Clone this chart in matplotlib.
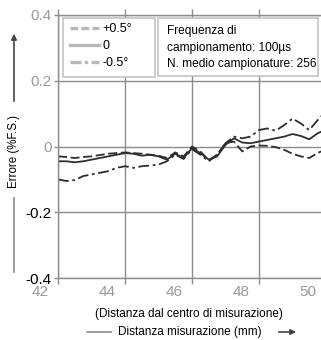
import matplotlib
matplotlib.use("Agg")
import matplotlib.pyplot as plt
from matplotlib.lines import Line2D
from matplotlib.patches import Rectangle, FancyArrowPatch
from matplotlib.transforms import ScaledTranslation, blended_transform_factory

plt.rcParams["font.family"] = ["Liberation Sans", "DejaVu Sans"]

# Distanza di misurazione (mm) e errore (%F.S.) per i tre angoli
distanza = [42.00, 42.25, 42.50, 42.75, 43.00, 43.25, 43.50, 43.75,
            44.00, 44.25, 44.50, 44.75, 45.00, 45.25, 45.50, 45.75,
            46.00, 46.25, 46.50, 46.75, 47.00, 47.25, 47.50, 47.75,
            48.00, 48.25, 48.50, 48.75, 49.00, 49.25, 49.50, 49.75, 50.00]
errore_piu = [-0.030, -0.032, -0.035, -0.032, -0.030, -0.026, -0.022, -0.020,
              -0.018, -0.020, -0.022, -0.025, -0.028, -0.035, -0.018, -0.030,
              0.000, -0.015, -0.042, -0.025, 0.010, 0.015, -0.015, 0.000,
              0.003, 0.002, -0.002, -0.010, -0.022, -0.030, -0.035, -0.020, -0.008]
errore_zero = [-0.045, -0.045, -0.048, -0.045, -0.040, -0.035, -0.030, -0.025,
               -0.020, -0.022, -0.028, -0.025, -0.030, -0.040, -0.022, -0.035,
               -0.005, -0.020, -0.040, -0.030, 0.005, 0.025, 0.012, 0.010,
               0.015, 0.020, 0.025, 0.030, 0.038, 0.032, 0.022, 0.040, 0.052]
errore_meno = [-0.100, -0.105, -0.102, -0.090, -0.085, -0.080, -0.075, -0.065,
               -0.060, -0.065, -0.060, -0.058, -0.055, -0.045, -0.025, -0.038,
               -0.008, -0.025, -0.045, -0.025, 0.010, 0.030, 0.025, 0.030,
               0.050, 0.055, 0.048, 0.065, 0.085, 0.070, 0.050, 0.080, 0.108]

x_ticks = [42, 44, 46, 48, 50]
y_ticks = [-0.4, -0.2, 0, 0.2, 0.4]
y_tick_labels = ["-0.4", "-0.2", "0", "0.2", "0.4"]
y_tick_colors = ["black", "black", "#9a9a9a", "#9a9a9a", "#9a9a9a"]
legend_labels = ["+0.5°", "0", "-0.5°"]
info_lines = ["Frequenza di", "campionamento: 100µs", "N. medio campionature: 256"]

W, H = 321, 340
GRID = "#8c8c8c"
LINE = "#2e2e2e"
HANDLE = "#b8b8b8"

fig = plt.figure(figsize=(W / 100, H / 100), dpi=100)


def px(x, y):
    # pixel dall'angolo in alto a sinistra -> frazione della figura
    return (x / W, 1 - y / H)


ax = fig.add_axes([58 / W, 1 - 278 / H, 268 / W, 263 / H])

ax.plot(distanza, errore_piu, color=LINE, lw=1.3, dashes=(5, 2))
ax.plot(distanza, errore_zero, color=LINE, lw=1.3)
ax.plot(distanza, errore_meno, color=LINE, lw=1.3, dashes=(6, 2, 1.5, 2))

ax.set_xlim(42, 50)
ax.set_ylim(-0.4, 0.4)
ax.set_xticks(x_ticks)
ax.set_yticks(y_ticks)
ax.set_yticklabels(y_tick_labels, fontsize=11)
for lbl, c in zip(ax.get_yticklabels(), y_tick_colors):
    lbl.set_color(c)
ax.tick_params(axis="x", labelbottom=False, direction="out", length=4,
               color=GRID, width=1.0, top=True)
ax.tick_params(axis="y", direction="out", length=3, color=GRID, width=1.0, pad=1.5)
ax.grid(True, color=GRID, lw=1.0)
for side in ["left", "top", "bottom"]:
    ax.spines[side].set_color(GRID)
    ax.spines[side].set_linewidth(1.0)
ax.spines["right"].set_visible(False)

# etichette asse x spostate a sinistra rispetto alla griglia
trans = blended_transform_factory(ax.transData, ax.transAxes) + \
    ScaledTranslation(-0.18, -0.14, fig.dpi_scale_trans)
for t in x_ticks:
    ax.text(t, 0, str(t), transform=trans, ha="center", va="center",
            fontsize=11, color="#9a9a9a")

# riquadro legenda
fig.add_artist(Rectangle(px(63, 77), 92 / W, 59 / H, transform=fig.transFigure,
                         facecolor="white", edgecolor="#c4c4c4", lw=1.2, zorder=2))
handles = [
    Line2D([], [], color=HANDLE, lw=2.4, dashes=(2.3, 1.0)),
    Line2D([], [], color=HANDLE, lw=2.4),
    Line2D([], [], color=HANDLE, lw=2.4, dashes=(3.3, 1.0, 1.0, 1.0)),
]
fig.legend(handles, legend_labels, loc="upper left", bbox_to_anchor=px(70, 23),
           bbox_transform=fig.transFigure, frameon=False, fontsize=9,
           handlelength=2.3, handletextpad=0.3, labelspacing=0.4,
           borderpad=0, borderaxespad=0)

# riquadro con le condizioni di misura
fig.add_artist(Rectangle(px(158, 76), 160 / W, 58 / H, transform=fig.transFigure,
                         facecolor="white", edgecolor="#c4c4c4", lw=1.2, zorder=2))
for i, riga in enumerate(info_lines):
    fig.text(*px(167, 31 + i * 16.5), riga, ha="left", va="center",
             fontsize=8.6, zorder=3)

# etichetta asse y con freccia
fig.text(*px(14, 151), "Errore (%F.S.)", rotation=90, ha="center", va="center",
         fontsize=8.3)
fig.add_artist(FancyArrowPatch(px(14, 104), px(14, 31), transform=fig.transFigure,
                               arrowstyle="-|>", mutation_scale=8, color="#444444",
                               lw=1.2))
fig.add_artist(Line2D([14 / W, 14 / W], [1 - 198 / H, 1 - 272 / H],
                      transform=fig.transFigure, color="#8a8a8a", lw=1.2))

# etichette asse x
fig.text(*px(189, 314), "(Distanza dal centro di misurazione)", ha="center",
         va="center", fontsize=8.5)
fig.text(*px(190, 332), "Distanza misurazione (mm)", ha="center", va="center",
         fontsize=8.5)
fig.add_artist(Line2D([87 / W, 111 / W], [1 - 332 / H, 1 - 332 / H],
                      transform=fig.transFigure, color="#8a8a8a", lw=1.2))
fig.add_artist(FancyArrowPatch(px(276, 332), px(299, 332), transform=fig.transFigure,
                               arrowstyle="-|>", mutation_scale=8, color="#444444",
                               lw=1.2))

fig.savefig("out.png", dpi=100)
